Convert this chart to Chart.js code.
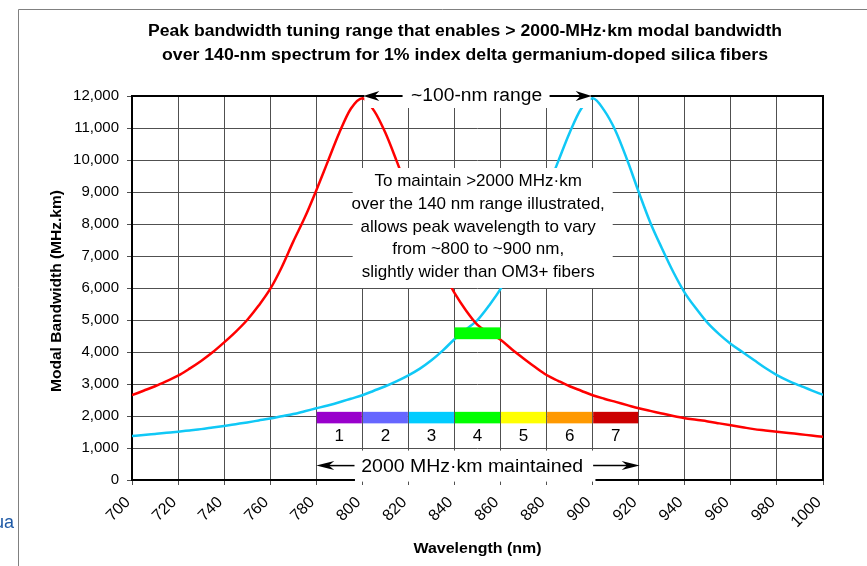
<!DOCTYPE html>
<html><head><meta charset="utf-8">
<script src="https://cdn.jsdelivr.net/npm/chart.js@4.4.1/dist/chart.umd.min.js"></script>
<style>html,body{margin:0;padding:0;background:#fff;overflow:hidden}canvas{display:block}</style>
</head><body>
<canvas id="c" width="867" height="566"></canvas>
<script>
// ---------- data ----------
const wavelengths = [700,705,710,715,720,725,730,735,740,745,750,755,760,765,770,775,780,785,790,795,
  800,805,810,815,820,825,830,835,840,845,850,855,860,865,870,875,880,885,890,895,
  900,905,910,915,920,925,930,935,940,945,950,955,960,965,970,975,980,985,990,995,1000];
const redBandwidth = [2650,2790,2930,3090,3260,3480,3720,3990,4300,4630,5000,5450,5970,6650,7450,8200,9050,9950,10850,11600,
  11930,11550,10850,9950,9000,8050,7250,6500,5850,5300,4850,4600,4380,4080,3800,3530,3280,3100,2930,2790,
  2650,2540,2440,2340,2240,2160,2080,2000,1930,1880,1830,1770,1710,1650,1590,1550,1510,1470,1430,1390,1350];
const cyanBandwidth = [1375,1405,1440,1475,1510,1550,1590,1640,1690,1745,1800,1860,1920,1990,2060,2150,2240,2330,2430,2540,
  2650,2790,2930,3090,3270,3480,3740,4050,4400,4700,5000,5450,5970,6650,7450,8200,9050,9950,10850,11600,
  11930,11550,10900,10000,9000,8050,7250,6500,5850,5350,4900,4550,4250,4000,3750,3500,3280,3100,2950,2800,2660];
const xTickValues = [700,720,740,760,780,800,820,840,860,880,900,920,940,960,980,1000];
const yTickValues = [0,1000,2000,3000,4000,5000,6000,7000,8000,9000,10000,11000,12000];
const titleLines = ['Peak bandwidth tuning range that enables > 2000-MHz\u00B7km modal bandwidth',
                    'over 140-nm spectrum for 1% index delta germanium-doped silica fibers'];
const xTitle = 'Wavelength (nm)';
const yTitle = 'Modal Bandwidth (MHz.km)';
const bandStarts = [780,800,820,840,860,880,900];
const bandEnds   = [800,820,840,860,880,900,920];
const bandLabels = ['1','2','3','4','5','6','7'];
const bandRange = [1770, 2130];          // MHz.km extent of the colour bar
const bandLabelValue = 1360;
const greenSpan = [840, 860];            // nm
const greenRange = [4400, 4770];         // MHz.km
const noteLines = ['To maintain >2000 MHz\u00B7km','over the 140 nm range illustrated,',
  'allows peak wavelength to vary','from ~800 to ~900 nm,','slightly wider than OM3+ fibers'];
const rangeText = '~100-nm range';
const maintainedText = '2000 MHz\u00B7km maintained';

// ---------- styles ----------
const bandColors = ['#9900CC','#6666FF','#00CCFF','#00FF00','#FFFF00','#FF9900','#CC0000'];
const FONT = "'Liberation Sans', Arial, Helvetica, sans-serif";

function drawText(ctx, text, cx, cy, size, weight, targetW, color) {
  ctx.save();
  ctx.font = `${weight} ${size}px ${FONT}`;
  ctx.fillStyle = color || '#000';
  const w = ctx.measureText(text).width;
  const s = targetW ? targetW / w : 1;
  ctx.translate(cx, cy);
  ctx.scale(s, 1);
  ctx.textAlign = 'center';
  ctx.textBaseline = 'middle';
  ctx.fillText(text, 0, 0);
  ctx.restore();
}
function arrow(ctx, x1, y, x2, len, half, lw) {
  const d = x2 > x1 ? 1 : -1;
  ctx.save();
  ctx.strokeStyle = '#000'; ctx.fillStyle = '#000'; ctx.lineWidth = lw;
  ctx.beginPath(); ctx.moveTo(x1, y); ctx.lineTo(x2 - d * len * 0.6, y); ctx.stroke();
  ctx.beginPath();
  ctx.moveTo(x2, y);
  ctx.lineTo(x2 - d * len, y - half);
  ctx.lineTo(x2 - d * len * 0.7, y);
  ctx.lineTo(x2 - d * len, y + half);
  ctx.closePath(); ctx.fill();
  ctx.restore();
}

const decor = {
  id: 'decor',
  beforeDraw(chart) {
    const ctx = chart.ctx;
    ctx.save();
    ctx.fillStyle = '#fff'; ctx.fillRect(0, 0, chart.width, chart.height);
    ctx.strokeStyle = '#808080'; ctx.lineWidth = 1;
    ctx.beginPath(); ctx.moveTo(18.5, 566); ctx.lineTo(18.5, 9.5); ctx.lineTo(867, 9.5); ctx.stroke();
    ctx.restore();
    ctx.save();
    ctx.font = `18px ${FONT}`; ctx.fillStyle = '#1F5AA6';
    ctx.textAlign = 'right'; ctx.textBaseline = 'alphabetic';
    ctx.fillText('ua', 14, 528);
    ctx.restore();
  },
  beforeDatasetsDraw(chart) {
    const {ctx, chartArea: a} = chart;
    ctx.save();
    ctx.strokeStyle = '#000'; ctx.lineWidth = 2;
    ctx.strokeRect(a.left, a.top, a.right - a.left, a.bottom - a.top);
    ctx.restore();
  },
  afterDatasetsDraw(chart) {
    const ctx = chart.ctx, xs = chart.scales.x, ys = chart.scales.y;
    ctx.save();
    // colour bands
    bandStarts.forEach((s, i) => {
      const x1 = xs.getPixelForValue(s), x2 = xs.getPixelForValue(bandEnds[i]);
      const y1 = ys.getPixelForValue(bandRange[1]), y2 = ys.getPixelForValue(bandRange[0]);
      ctx.fillStyle = bandColors[i];
      ctx.fillRect(x1 + 0.5, y1, x2 - x1 - 1, y2 - y1);
      drawText(ctx, bandLabels[i], (x1 + x2) / 2, ys.getPixelForValue(bandLabelValue), 17, 'normal');
    });
    // green box
    {
      const x1 = xs.getPixelForValue(greenSpan[0]), x2 = xs.getPixelForValue(greenSpan[1]);
      const y1 = ys.getPixelForValue(greenRange[1]), y2 = ys.getPixelForValue(greenRange[0]);
      ctx.fillStyle = '#00FF00';
      ctx.fillRect(x1, y1, x2 - x1, y2 - y1);
    }
    // note box
    {
      const x1 = xs.getPixelForValue(795.8), x2 = xs.getPixelForValue(908.7);
      const y1 = ys.getPixelForValue(9750), y2 = ys.getPixelForValue(6000);
      ctx.fillStyle = '#fff';
      ctx.fillRect(x1, y1, x2 - x1, y2 - y1);
      const cx = xs.getPixelForValue(850.3);
      const ys0 = [181.7, 204.5, 227, 249.5, 272.5];
      noteLines.forEach((t, i) => drawText(ctx, t, cx, ys0[i], 17, 'normal'));
    }
    // ~100-nm range
    {
      const xl = xs.getPixelForValue(800), xr = xs.getPixelForValue(900);
      const y = ys.getPixelForValue(12000);
      ctx.fillStyle = '#fff';
      ctx.fillRect(xl + 2, y - 12, xr - xl - 4, 24);
      const cx = xs.getPixelForValue(849.6);
      drawText(ctx, rangeText, cx, y, 18, 'normal', 131);
      arrow(ctx, cx - 74, y, xl + 1, 16, 5, 2);
      arrow(ctx, cx + 73, y, xr - 1, 16, 5, 2);
    }
    // 2000 maintained
    {
      const y = ys.getPixelForValue(450);
      const xl = xs.getPixelForValue(780), xr = xs.getPixelForValue(920.4);
      ctx.fillStyle = '#fff';
      ctx.fillRect(xs.getPixelForValue(796.8), y - 15, xs.getPixelForValue(901.2) - xs.getPixelForValue(796.8), 31);
      const cx = xs.getPixelForValue(847.7);
      drawText(ctx, maintainedText, cx, y + 1, 18, 'normal', 222);
      arrow(ctx, xs.getPixelForValue(796.6), y, xl, 18, 4.5, 1.5);
      arrow(ctx, xs.getPixelForValue(900.2), y, xr, 18, 4.5, 1.5);
    }
    ctx.restore();
  },
  afterDraw(chart) {
    const ctx = chart.ctx, a = chart.chartArea;
    drawText(ctx, titleLines[0], 465, 32, 16, 'bold', 634);
    drawText(ctx, titleLines[1], 465, 56, 16, 'bold', 606);
    drawText(ctx, xTitle, (a.left + a.right) / 2, 549, 15, 'bold', 128);
    ctx.save();
    ctx.translate(57, (a.top + a.bottom) / 2 + 3);
    ctx.rotate(-Math.PI / 2);
    drawText(ctx, yTitle, 0, 0, 15, 'bold', 202);
    ctx.restore();
  }
};

const mkPoints = vals => wavelengths.map((w, i) => ({x: w, y: vals[i]}));

new Chart(document.getElementById('c'), {
  type: 'line',
  data: {
    datasets: [
      {data: mkPoints(redBandwidth), borderColor: '#FF0000', borderWidth: 2.5, pointRadius: 0, cubicInterpolationMode: 'monotone', fill: false},
      {data: mkPoints(cyanBandwidth), borderColor: '#10C8F6', borderWidth: 2.5, pointRadius: 0, cubicInterpolationMode: 'monotone', fill: false}
    ]
  },
  options: {
    responsive: false, animation: false, devicePixelRatio: 1,
    layout: {padding: {top: 96, right: 44, left: 0, bottom: 0}},
    plugins: {legend: {display: false}, tooltip: {enabled: false}, title: {display: false}},
    scales: {
      x: {
        type: 'linear', min: 700, max: 1000,
        afterBuildTicks: s => { s.ticks = xTickValues.map(v => ({value: v})); },
        afterFit: s => { s.height = 86; },
        ticks: {color: '#000', font: {family: FONT, size: 16}, maxRotation: 45, minRotation: 45, padding: 8,
                labelOffset: -4, callback: v => String(v)},
        grid: {color: '#505050', lineWidth: 1, tickLength: 5},
        border: {display: false}
      },
      y: {
        type: 'linear', min: 0, max: 12000,
        afterBuildTicks: s => { s.ticks = yTickValues.map(v => ({value: v})); },
        afterFit: s => { s.width = 132; },
        ticks: {color: '#000', font: {family: FONT, size: 15}, padding: 8,
                callback: v => v.toLocaleString('en-US')},
        grid: {color: '#505050', lineWidth: 1, tickLength: 5},
        border: {display: false}
      }
    }
  },
  plugins: [decor]
});
</script>
</body></html>
